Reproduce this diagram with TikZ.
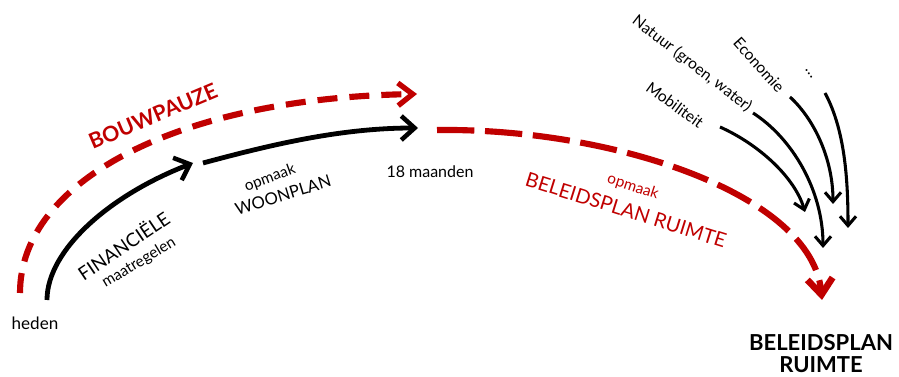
\documentclass[tikz,border=0pt]{standalone}
\usepackage{fontspec}
\setmainfont{Lato}
\usetikzlibrary{arrows.meta}
\definecolor{dred}{HTML}{C00000}
\begin{document}
\begin{tikzpicture}[x=0.75pt,y=-0.75pt,
  blk/.style={line width=3.6pt,black,-{Straight Barb[length=10pt,width=18pt,line width=3.4pt]}},
  thin/.style={line width=2.3pt,black,-{Straight Barb[length=7pt,width=12pt,line width=2.3pt]}},
  reddash/.style={line width=4.6pt,dred,dash pattern=on 15pt off 9pt,-{Straight Barb[length=11pt,width=17pt,line width=4pt]}},
  reddashb/.style={line width=4.6pt,dred,dash pattern=on 28pt off 8pt,-{Straight Barb[length=12pt,width=19pt,line width=5pt]}},
  lbl/.style={inner sep=0pt,font=\fontsize{12.8}{15}\selectfont},
  sml/.style={inner sep=0pt,font=\fontsize{11.5}{13}\selectfont},
  slant/.style={inner sep=0pt,font=\fontsize{11.7}{13}\selectfont},
  rl/.style={inner sep=0pt,text=dred}]
\useasboundingbox (0,0) rectangle (899,377);
% coordinates
\coordinate (r1s) at (20,293);
\coordinate (r1e) at (417,94);
\coordinate (b1s) at (47,300);
\coordinate (b1e) at (193,163);
\coordinate (b2s) at (203,163);
\coordinate (b2e) at (418,128);
\coordinate (r2s) at (437,130);
\coordinate (r2e) at (822,300);
\coordinate (m1s) at (720,127);
\coordinate (m1e) at (805,212);
\coordinate (n1s) at (753,113);
\coordinate (n1e) at (823,248);
\coordinate (e1s) at (790,97);
\coordinate (e1e) at (833,204);
\coordinate (d1s) at (825,93);
\coordinate (d1e) at (848,228);
% connectors
\draw[reddash] (r1s) .. controls (20,180) and (180,98) .. (r1e);
\draw[blk] (b1s) .. controls (47,250) and (110,195) .. (b1e);
\draw[blk] (b2s) .. controls (270,145) and (340,128) .. (b2e);
\draw[reddashb] (r2s) .. controls (615,128) and (812,195) .. (r2e);
\draw[thin] (m1s) .. controls (760,145) and (795,178) .. (m1e);
\draw[thin] (n1s) .. controls (792,138) and (823,190) .. (n1e);
\draw[thin] (e1s) .. controls (815,120) and (833,160) .. (e1e);
\draw[thin] (d1s) .. controls (845,130) and (848,180) .. (d1e);
% labels
\node[lbl] (heden) at (35,323) {heden};
\node[inner sep=0pt,font=\fontsize{14}{16}\selectfont,rotate=34] (fin) at (123,245) {FINANCIËLE};
\node[sml,rotate=31] (maat) at (139,263) {maatregelen};
\node[sml,rotate=20] (op1) at (270,178) {opmaak};
\node[inner sep=0pt,font=\fontsize{12.5}{15}\selectfont,rotate=17] (woon) at (283,195) {WOONPLAN};
\node[rl,rotate=23,font=\bfseries\fontsize{16}{18}\selectfont] (bouw) at (153,116) {BOUWPAUZE};
\node[inner sep=0pt,font=\fontsize{12}{14}\selectfont] (maanden) at (430,172) {18 maanden};
\node[rl,sml,rotate=-18] (op2) at (633,187) {opmaak};
\node[rl,rotate=-17.4,font=\fontsize{15}{17}\selectfont] (bpr) at (626,210) {BELEIDSPLAN RUIMTE};
\node[inner sep=0pt,font=\bfseries\fontsize{16.5}{16.5}\selectfont,align=center] (bp) at (821,354) {BELEIDSPLAN\\RUIMTE};
\node[slant,rotate=-37.7] (nat) at (692,64) {Natuur (groen, water)};
\node[slant,rotate=-48] (eco) at (759,65) {Economie};
\node[slant,rotate=-36] (mob) at (675,105) {Mobiliteit};
\node[slant,rotate=-55] (dots) at (809,74) {…};
\end{tikzpicture}
\end{document}
